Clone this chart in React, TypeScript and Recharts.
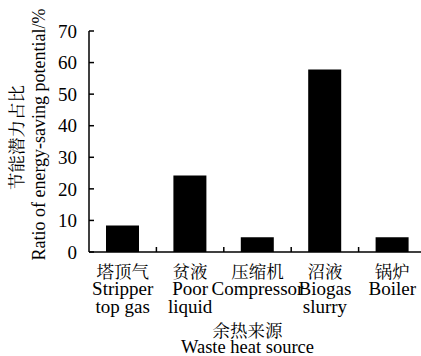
import { Bar, BarChart, XAxis, YAxis } from 'recharts'

const sourcesZh = ['塔顶气', '贫液', '压缩机', '沼液', '锅炉']
const sourcesEn1 = ['Stripper', 'Poor', 'Compressor', 'Biogas', 'Boiler']
const sourcesEn2 = ['top gas', 'liquid', '', 'slurry', '']
const savingRatio = [8.4, 24.2, 4.7, 57.8, 4.7]
const yTicks = [0, 10, 20, 30, 40, 50, 60, 70]

const data = sourcesZh.map((zh, i) => ({
  zh,
  en1: sourcesEn1[i],
  en2: sourcesEn2[i],
  ratio: savingRatio[i],
}))

const serif = { fontFamily: '"Liberation Serif", serif', fontSize: 19 }
const cjk = { fontFamily: '"Noto Serif CJK SC", "Noto Sans CJK SC", serif', fontSize: 17.5 }

function SourceTick(props: any) {
  const { x, y, payload, index } = props
  const d = data[index]
  const edge = x - (payload.offset ?? 0)
  return (
    <g>
      {index > 0 && <line x1={edge} x2={edge} y1={y} y2={y - 5} stroke="#000" strokeWidth={1.5} />}
      <text x={x} y={y + 26} textAnchor="middle" style={cjk} fill="#000">
        {d.zh}
      </text>
      <text x={x} y={y + 43} textAnchor="middle" style={serif} fill="#000">
        {d.en1}
      </text>
      {d.en2 && (
        <text x={x} y={y + 61} textAnchor="middle" style={serif} fill="#000">
          {d.en2}
        </text>
      )}
    </g>
  )
}

function XTitle(props: any) {
  const { x, y, width } = props.viewBox
  const cx = x + width / 2 - 10
  return (
    <g>
      <text x={cx} y={y + 85} textAnchor="middle" style={cjk} fill="#000">
        余热来源
      </text>
      <text x={cx} y={y + 101} textAnchor="middle" style={{ ...serif, fontSize: 18.5 }} fill="#000">
        Waste heat source
      </text>
    </g>
  )
}

function YTitle(props: any) {
  const { y, height } = props.viewBox
  const cy = y + height / 2
  return (
    <g>
      <text x={23} y={cy - 4} transform={`rotate(-90 23 ${cy - 4})`} textAnchor="middle" style={cjk} fill="#000">
        节能潜力占比
      </text>
      <text x={45} y={cy - 7} transform={`rotate(-90 45 ${cy - 7})`} textAnchor="middle" style={{ ...serif, fontSize: 18 }} fill="#000">
        Ratio of energy-saving potential/%
      </text>
    </g>
  )
}

export default function App() {
  return (
    <div style={{ position: 'absolute', left: 0, top: 0, width: 421, height: 356, overflow: 'hidden', background: '#fff', fontFamily: '"Liberation Serif", serif' }}>
      <BarChart width={426} height={356} data={data} margin={{ top: 31, right: 0, bottom: 0, left: 0 }} barCategoryGap={0}>
        <XAxis
          dataKey="zh"
          height={104}
          interval={0}
          tickLine={false}
          tickSize={0}
          tickMargin={0}
          tick={<SourceTick />}
          axisLine={{ stroke: '#000', strokeWidth: 1.5 }}
          label={<XTitle />}
        />
        <YAxis
          width={89}
          domain={[0, 70]}
          ticks={yTicks}
          interval={0}
          tickSize={-5}
          tickMargin={17}
          tickLine={{ stroke: '#000', strokeWidth: 1.5 }}
          axisLine={{ stroke: '#000', strokeWidth: 1.5 }}
          tick={{ fill: '#000', fontSize: 19, style: serif }}
          label={<YTitle />}
        />
        <Bar dataKey="ratio" fill="#000" barSize={33} isAnimationActive={false} />
      </BarChart>
    </div>
  )
}
